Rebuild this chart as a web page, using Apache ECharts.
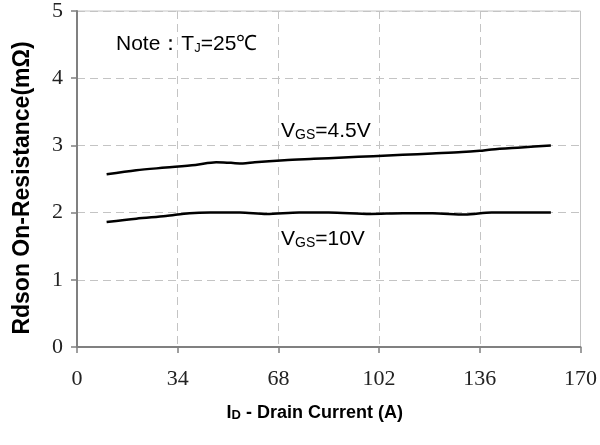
<!DOCTYPE html>
<html>
<head>
<meta charset="utf-8">
<script src="https://cdn.jsdelivr.net/npm/echarts@6/dist/echarts.min.js"></script>
<style>html,body{margin:0;padding:0;background:#fff}#c{width:600px;height:445px}</style>
</head>
<body>
<div id="c"></div>
<script>
// Drain current (A) and Rdson (mΩ)
var ID_45 = [10, 20, 30, 40, 47, 52, 56, 60, 70, 80, 90, 100, 110, 120, 130, 136, 140, 150, 160];
var R_45  = [2.57, 2.63, 2.67, 2.71, 2.75, 2.74, 2.73, 2.75, 2.78, 2.80, 2.82, 2.84, 2.86, 2.88, 2.90, 2.92, 2.94, 2.97, 3.00];
var ID_10 = [10, 20, 30, 38, 45, 55, 64, 75, 85, 99, 110, 120, 131, 140, 150, 160];
var R_10  = [1.86, 1.91, 1.95, 1.99, 2.00, 2.00, 1.98, 2.00, 2.00, 1.98, 1.99, 1.99, 1.97, 2.00, 2.00, 2.00];
var xTicks = [0, 34, 68, 102, 136, 170];
var yTicks = [0, 1, 2, 3, 4, 5];

function pairs(xs, ys) { return xs.map(function (x, i) { return [x, ys[i]]; }); }

var chart = echarts.init(document.getElementById('c'), null, { renderer: 'canvas' });
var sans = 'Liberation Sans, Arial, sans-serif';
var serif = 'Liberation Serif, Times New Roman, serif';
var gridLine = { show: true, lineStyle: { color: '#c4c4c4', type: [8, 5], width: 1 } };

chart.setOption({
  animation: false,
  backgroundColor: '#fff',
  grid: { left: 77, right: 17, top: 11, bottom: 98, show: true, borderColor: '#c4c4c4', borderWidth: 1 },
  xAxis: {
    type: 'value', min: xTicks[0], max: xTicks[xTicks.length - 1], interval: 34,
    axisLine: { show: true, lineStyle: { color: '#808080', width: 2 } },
    axisTick: { show: true, length: 6, lineStyle: { color: '#808080', width: 1.5 } },
    axisLabel: { color: '#222', fontFamily: serif, fontSize: 22, margin: 21 },
    splitLine: gridLine,
    name: '{m|I}{s|D}{m| - Drain Current (A)}',
    nameLocation: 'middle', nameGap: 57,
    nameTextStyle: {
      padding: [0, 28, 0, 0],
      rich: {
        m: { fontFamily: sans, fontWeight: 'bold', fontSize: 18, color: '#000' },
        s: { fontFamily: sans, fontWeight: 'bold', fontSize: 13, color: '#000', verticalAlign: 'bottom' }
      }
    }
  },
  yAxis: {
    type: 'value', min: yTicks[0], max: yTicks[yTicks.length - 1], interval: 1,
    axisLine: { show: true, lineStyle: { color: '#808080', width: 2 } },
    axisTick: { show: true, length: 6, lineStyle: { color: '#808080', width: 1.5 } },
    axisLabel: { color: '#222', fontFamily: serif, fontSize: 22, margin: 14 },
    splitLine: gridLine,
    name: 'Rdson On-Resistance(mΩ)',
    nameLocation: 'middle', nameGap: 43,
    nameTextStyle: { fontFamily: sans, fontWeight: 'bold', fontSize: 23, color: '#000', padding: [0, 18, 0, 0] }
  },
  series: [
    { type: 'line', name: 'VGS=4.5V', data: pairs(ID_45, R_45), smooth: 0.3, symbol: 'none',
      lineStyle: { color: '#000', width: 2.5 } },
    { type: 'line', name: 'VGS=10V', data: pairs(ID_10, R_10), smooth: 0.3, symbol: 'none',
      lineStyle: { color: '#000', width: 2.5 } }
  ],
  graphic: [
    { type: 'text', left: 116, top: 34, style: {
        text: '{m|Note：T}{s|J}{m|=25℃}',
        rich: { m: { fontFamily: sans, fontSize: 21, fill: '#000' }, s: { fontFamily: sans, fontSize: 13, fill: '#000', verticalAlign: 'bottom' } } } },
    { type: 'text', left: 281, top: 121, style: {
        text: '{m|V}{s|GS}{m|=4.5V}',
        rich: { m: { fontFamily: sans, fontSize: 21, fill: '#000' }, s: { fontFamily: sans, fontSize: 14, fill: '#000', verticalAlign: 'bottom' } } } },
    { type: 'text', left: 281, top: 229, style: {
        text: '{m|V}{s|GS}{m|=10V}',
        rich: { m: { fontFamily: sans, fontSize: 21, fill: '#000' }, s: { fontFamily: sans, fontSize: 14, fill: '#000', verticalAlign: 'bottom' } } } }
  ]
});
</script>
</body>
</html>
